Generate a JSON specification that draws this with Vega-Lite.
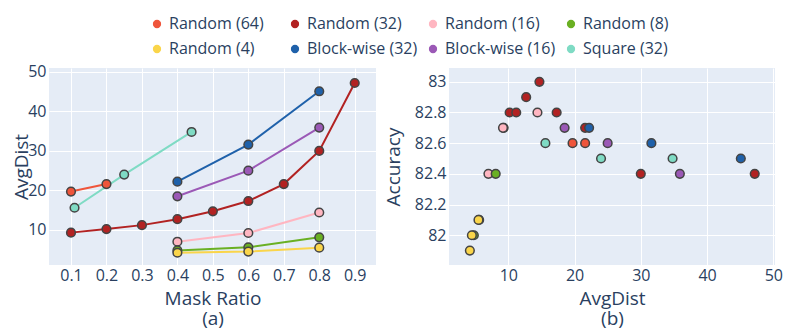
{
  "$schema": "https://vega.github.io/schema/vega-lite/v6.json",
  "background": "white",
  "padding": {"left": 12, "top": 16, "right": 10, "bottom": 2},
  "config": {
    "font": "Open Sans",
    "view": {"fill": "#E5ECF6", "stroke": null},
    "axis": {"domain": false, "ticks": false, "gridColor": "white", "gridWidth": 1, "labelColor": "#2a3f5f", "titleColor": "#2a3f5f", "labelFontSize": 16, "titleFontSize": 19, "titleFontWeight": "normal", "titleLineHeight": 20},
    "axisX": {"labelPadding": 2, "titlePadding": 6},
    "axisY": {"labelPadding": 3, "titlePadding": 3}
  },
  "data": {"values": [
    {"series": "Random (64)", "mask": 0.1, "dist": 19.7, "acc": 82.6},
    {"series": "Random (64)", "mask": 0.2, "dist": 21.6, "acc": 82.6},
    {"series": "Random (32)", "mask": 0.1, "dist": 9.3, "acc": 82.7},
    {"series": "Random (32)", "mask": 0.2, "dist": 10.2, "acc": 82.8},
    {"series": "Random (32)", "mask": 0.3, "dist": 11.2, "acc": 82.8},
    {"series": "Random (32)", "mask": 0.4, "dist": 12.7, "acc": 82.9},
    {"series": "Random (32)", "mask": 0.5, "dist": 14.7, "acc": 83.0},
    {"series": "Random (32)", "mask": 0.6, "dist": 17.3, "acc": 82.8},
    {"series": "Random (32)", "mask": 0.7, "dist": 21.6, "acc": 82.7},
    {"series": "Random (32)", "mask": 0.8, "dist": 30.0, "acc": 82.4},
    {"series": "Random (32)", "mask": 0.9, "dist": 47.2, "acc": 82.4},
    {"series": "Random (16)", "mask": 0.4, "dist": 7.0, "acc": 82.4},
    {"series": "Random (16)", "mask": 0.6, "dist": 9.2, "acc": 82.7},
    {"series": "Random (16)", "mask": 0.8, "dist": 14.4, "acc": 82.8},
    {"series": "Random (8)", "mask": 0.4, "dist": 4.8, "acc": 82.0},
    {"series": "Random (8)", "mask": 0.6, "dist": 5.6, "acc": 82.1},
    {"series": "Random (8)", "mask": 0.8, "dist": 8.1, "acc": 82.4},
    {"series": "Random (4)", "mask": 0.4, "dist": 4.2, "acc": 81.9},
    {"series": "Random (4)", "mask": 0.6, "dist": 4.5, "acc": 82.0},
    {"series": "Random (4)", "mask": 0.8, "dist": 5.5, "acc": 82.1},
    {"series": "Block-wise (32)", "mask": 0.4, "dist": 22.2, "acc": 82.7},
    {"series": "Block-wise (32)", "mask": 0.6, "dist": 31.6, "acc": 82.6},
    {"series": "Block-wise (32)", "mask": 0.8, "dist": 45.1, "acc": 82.5},
    {"series": "Block-wise (16)", "mask": 0.4, "dist": 18.5, "acc": 82.7},
    {"series": "Block-wise (16)", "mask": 0.6, "dist": 25.0, "acc": 82.6},
    {"series": "Block-wise (16)", "mask": 0.8, "dist": 35.9, "acc": 82.4},
    {"series": "Square (32)", "mask": 0.11, "dist": 15.6, "acc": 82.6},
    {"series": "Square (32)", "mask": 0.25, "dist": 24.0, "acc": 82.5},
    {"series": "Square (32)", "mask": 0.44, "dist": 34.8, "acc": 82.5}
  ]},
  "spacing": 73,
  "bounds": "flush",
  "resolve": {"scale": {"color": "shared"}},
  "hconcat": [
    {
      "width": 327,
      "height": 197,
      "layer": [
        {
          "mark": {"type": "line", "strokeWidth": 2},
          "encoding": {
            "x": {"field": "mask", "type": "quantitative"},
            "y": {"field": "dist", "type": "quantitative"},
            "color": {"field": "series", "type": "nominal"}
          }
        },
        {
          "mark": {"type": "point", "filled": true, "size": 75, "stroke": "#444", "strokeWidth": 1.5, "opacity": 1},
          "encoding": {
            "x": {"field": "mask", "type": "quantitative", "title": ["Mask Ratio", "(a)"],
                  "scale": {"domain": [0.038, 0.96], "nice": false, "zero": false},
                  "axis": {"values": [0.1, 0.2, 0.3, 0.4, 0.5, 0.6, 0.7, 0.8, 0.9], "format": ".1f"}},
            "y": {"field": "dist", "type": "quantitative", "title": "AvgDist",
                  "scale": {"domain": [1.1, 51], "nice": false, "zero": false},
                  "axis": {"values": [10, 20, 30, 40, 50], "titleX": -28, "titleBaseline": "middle"}},
            "color": {"field": "series", "type": "nominal",
              "scale": {
                "domain": ["Random (64)", "Random (32)", "Random (16)", "Random (8)", "Random (4)", "Block-wise (32)", "Block-wise (16)", "Square (32)"],
                "range": ["#EF553B", "#B22222", "#FFB6C1", "#6AB023", "#FAD54A", "#1F61AA", "#9B59B6", "#7FDBC4"]
              },
              "legend": {"orient": "none", "legendX": 100, "legendY": -52, "columns": 4, "direction": "horizontal", "title": null,
                         "symbolType": "circle", "symbolSize": 50, "symbolStrokeColor": "#444", "symbolStrokeWidth": 1.2,
                         "labelFontSize": 16, "labelColor": "#2a3f5f", "gridAlign": "all", "columnPadding": 7, "rowPadding": 9, "labelOffset": 4}
            }
          }
        }
      ]
    },
    {
      "width": 326,
      "height": 197,
      "mark": {"type": "point", "filled": true, "size": 75, "stroke": "#444", "strokeWidth": 1.5, "opacity": 1},
      "encoding": {
        "x": {"field": "dist", "type": "quantitative", "title": ["AvgDist", "(b)"],
              "scale": {"domain": [1.05, 50.26], "nice": false, "zero": false},
              "axis": {"values": [10, 20, 30, 40, 50]}},
        "y": {"field": "acc", "type": "quantitative", "title": "Accuracy",
              "scale": {"domain": [81.806, 83.09], "nice": false, "zero": false},
              "axis": {"values": [82, 82.2, 82.4, 82.6, 82.8, 83], "format": "~g", "titleX": -56, "titleBaseline": "middle"}},
        "color": {"field": "series", "type": "nominal"}
      }
    }
  ]
}
